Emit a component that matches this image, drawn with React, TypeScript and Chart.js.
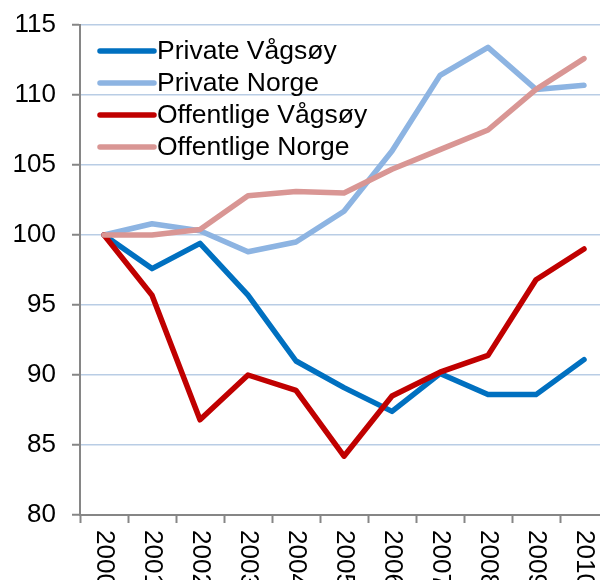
import React, { useEffect, useRef } from "react";
import { Chart, registerables } from "chart.js";

Chart.register(...registerables);

const years = ["2000", "2001", "2002", "2003", "2004", "2005", "2006", "2007", "2008", "2009", "2010"];
const privateVagsoy = [100, 97.6, 99.4, 95.7, 91.0, 89.1, 87.4, 90.1, 88.6, 88.6, 91.1];
const privateNorge = [100, 100.8, 100.3, 98.8, 99.5, 101.7, 106.0, 111.4, 113.4, 110.4, 110.7];
const offentligeVagsoy = [100, 95.7, 86.8, 90.0, 88.9, 84.2, 88.5, 90.2, 91.4, 96.8, 99.0];
const offentligeNorge = [100, 100.0, 100.4, 102.8, 103.1, 103.0, 104.7, 106.1, 107.5, 110.4, 112.6];
const seriesLabels = ["Private Vågsøy", "Private Norge", "Offentlige Vågsøy", "Offentlige Norge"];
const seriesColors = ["#0070C0", "#8DB4E2", "#C00000", "#D99694"];
const yMin = 80;
const yMax = 115;
const yStep = 5;

const FONT = "'Liberation Sans', Arial, sans-serif";

const overlayPlugin = {
  id: "overlay",
  afterDraw(chart: any) {
    const ctx = chart.ctx;
    const x = chart.scales.x;
    ctx.save();
    // rotated x labels (reading top to bottom)
    ctx.fillStyle = "#000";
    ctx.font = `26px ${FONT}`;
    ctx.textAlign = "left";
    ctx.textBaseline = "middle";
    chart.data.labels.forEach((lab: string, i: number) => {
      const px = x.getPixelForValue(i);
      ctx.save();
      ctx.translate(px, 530);
      ctx.rotate(Math.PI / 2);
      ctx.fillText(lab, 0, 0);
      ctx.restore();
    });
    // legend
    ctx.font = `26.5px ${FONT}`;
    chart.data.datasets.forEach((ds: any, i: number) => {
      const y = 51 + i * 32;
      ctx.strokeStyle = ds.borderColor;
      ctx.lineWidth = 5.5;
      ctx.lineCap = "round";
      ctx.beginPath();
      ctx.moveTo(100, y);
      ctx.lineTo(154, y);
      ctx.stroke();
      ctx.fillStyle = "#000";
      ctx.fillText(ds.label, 157, y + 1);
    });
    ctx.restore();
  },
};

export default function App() {
  const ref = useRef<HTMLCanvasElement>(null);
  useEffect(() => {
    const data = [privateVagsoy, privateNorge, offentligeVagsoy, offentligeNorge];
    const chart = new Chart(ref.current as HTMLCanvasElement, {
      type: "line",
      data: {
        labels: years,
        datasets: data.map((d, i) => ({
          label: seriesLabels[i],
          data: d,
          borderColor: seriesColors[i],
          backgroundColor: seriesColors[i],
          borderWidth: 5.5,
          pointRadius: 0,
          tension: 0,
          borderCapStyle: "round" as const,
          borderJoinStyle: "round" as const,
          order: 3 - i,
        })),
      },
      options: {
        responsive: false,
        animation: false,
        devicePixelRatio: 1,
        layout: { padding: { top: 25, right: 2, left: 0, bottom: 0 } },
        plugins: { legend: { display: false }, tooltip: { enabled: false } },
        scales: {
          x: {
            type: "category",
            offset: true,
            afterFit: (s: any) => {
              s.height = 65;
            },
            grid: {
              offset: true,
              drawOnChartArea: false,
              drawTicks: true,
              tickLength: 8,
              tickColor: "#868686",
              tickWidth: 2,
            },
            border: { color: "#868686", width: 2 },
            ticks: { display: false },
          },
          y: {
            min: yMin,
            max: yMax,
            afterFit: (s: any) => {
              s.width = 80;
              s.paddingTop = 10;
              s.paddingBottom = 0;
            },
            ticks: {
              stepSize: yStep,
              color: "#000",
              padding: 16,
              font: { family: FONT, size: 26 },
            },
            grid: {
              color: "#B9CDE5",
              lineWidth: 1.5,
              tickLength: 8,
              tickColor: "#868686",
              tickWidth: 2,
            },
            border: { color: "#868686", width: 2 },
          },
        },
      },
      plugins: [overlayPlugin],
    });
    return () => chart.destroy();
  }, []);
  return (
    <div style={{ position: "fixed", left: 0, top: 0, width: 600, height: 580, overflow: "hidden", background: "#fff" }}>
      <canvas ref={ref} width={610} height={580} style={{ display: "block" }} />
    </div>
  );
}
